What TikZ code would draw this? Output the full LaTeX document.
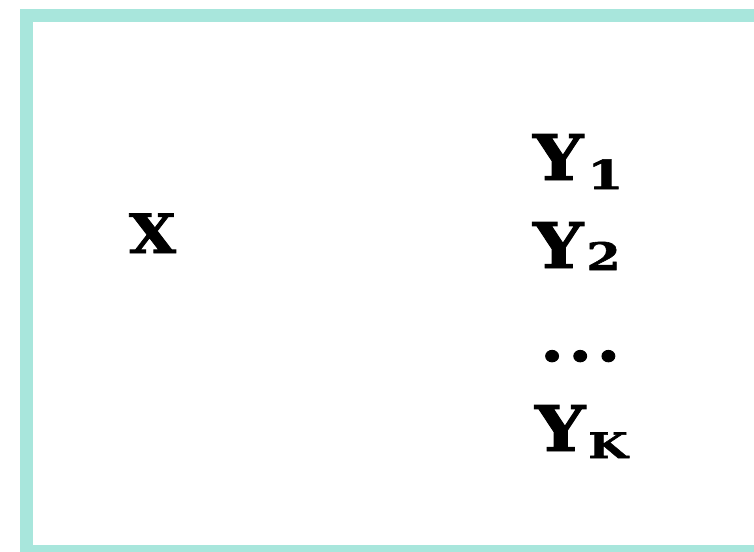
\documentclass[tikz,border=0pt]{standalone}
\usepackage{fontspec}
\setmainfont{DejaVu Serif}[BoldFeatures={FakeStretch=1.12,FakeBold=1.5}]
\newfontfamily\subf{DejaVu Serif Bold}[FakeStretch=1.3,FakeBold=1.5]
\definecolor{bordercol}{HTML}{A8E6DC}
\tikzset{
  lbl/.style={anchor=base west, inner sep=0pt, outer sep=0pt, font=\bfseries},
}
\newcommand{\subtxt}[3]{\raisebox{-#1pt}{\subf\fontsize{#2}{#2}\selectfont #3}}
\begin{document}
\begin{tikzpicture}[x=1pt, y=-1pt]
\useasboundingbox (0,0) rectangle (754,551);
\clip (0,0) rectangle (754,551);
\draw[bordercol, line width=13pt] (26.5,15.5) rectangle (790,551.5);
\node[lbl, font=\bfseries\fontsize{54}{54}\selectfont] (x) at (129,253) {X};
\node[lbl, font=\bfseries\fontsize{63}{63}\selectfont] (y1) at (533,180) {Y\kern4pt\subtxt{9}{40}{1}};
\node[lbl, font=\bfseries\fontsize{63}{63}\selectfont] (y2) at (533,268) {Y\kern3pt\subtxt{2}{38}{2}};
\node[lbl, font=\bfseries\fontsize{62}{62}\selectfont] (dots) at (540,361) {.\kern4pt.\kern4pt.};
\node[lbl, font=\bfseries\fontsize{63}{63}\selectfont] (yk) at (535,451) {Y\kern3pt\subtxt{7}{35}{K}};
\end{tikzpicture}
\end{document}
